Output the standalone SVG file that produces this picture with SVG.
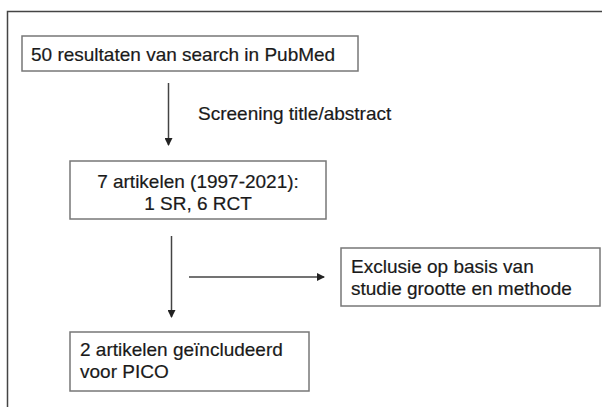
<svg xmlns="http://www.w3.org/2000/svg" width="602" height="407" viewBox="0 0 602 407">
<defs>
<marker id="ah" markerWidth="8" markerHeight="8" refX="7" refY="4" orient="auto" markerUnits="userSpaceOnUse">
<path d="M0,0 L8,4 L0,8 Z" fill="#222"/>
</marker>
<style>
.frame{fill:none;stroke:#444;stroke-width:1.5}
.box{fill:#fff;stroke:#777;stroke-width:1.5}
.t{font-family:"Liberation Sans",Arial,sans-serif;font-size:19px;fill:#1a1a1a;stroke:#1a1a1a;stroke-width:0.2}
.c{stroke:#444;stroke-width:1.5;fill:none;marker-end:url(#ah)}
</style>
</defs>
<rect width="602" height="407" fill="#fff"/>
<rect class="frame" x="7.5" y="11.5" width="620" height="420"/>
<g id="n1">
<rect class="box" x="22" y="36" width="336" height="35"/>
<text class="t" x="31" y="61">50 resultaten van search in PubMed</text>
</g>
<g id="screening-label">
<text class="t" x="198" y="120">Screening title/abstract</text>
</g>
<g id="n2">
<rect class="box" x="70" y="161" width="256" height="58"/>
<text class="t" x="198" y="188" text-anchor="middle">7 artikelen (1997-2021):</text>
<text class="t" x="198" y="210" text-anchor="middle">1 SR, 6 RCT</text>
</g>
<g id="n3">
<rect class="box" x="341" y="248" width="259" height="58"/>
<text class="t" x="351" y="273">Exclusie op basis van</text>
<text class="t" x="351" y="295">studie grootte en methode</text>
</g>
<g id="n4">
<rect class="box" x="70" y="332" width="239" height="59"/>
<text class="t" x="80" y="356">2 artikelen geïncludeerd</text>
<text class="t" x="80" y="378">voor PICO</text>
</g>
<g id="connectors">
<line class="c" x1="168.5" y1="83" x2="168.5" y2="145"/>
<line class="c" x1="171.5" y1="236" x2="171.5" y2="317"/>
<line class="c" x1="189" y1="277" x2="324" y2="277"/>
</g>
</svg>
